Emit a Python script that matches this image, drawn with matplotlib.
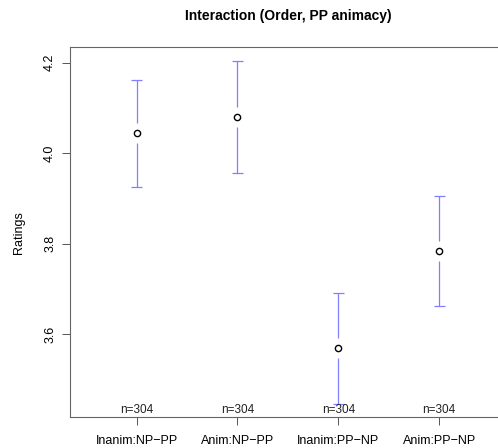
import numpy as np
import matplotlib
matplotlib.use("Agg")
import matplotlib.pyplot as plt

# group means and CI bounds
groups = ["Inanim:NP\u2212PP", "Anim:NP\u2212PP", "Inanim:PP\u2212NP", "Anim:PP\u2212NP"]
means = [4.044, 4.080, 3.570, 3.783]
upper = [4.161, 4.203, 3.692, 3.905]
lower = [3.926, 3.956, 3.445, 3.663]
counts = [304, 304, 304, 304]

plt.rcParams["font.family"] = ["Liberation Sans", "DejaVu Sans"]

fig = plt.figure(figsize=(4.98, 4.48), dpi=100)
ax = fig.add_axes([0.1406, 0.0692, 0.875, 0.8252])

x = np.arange(1, len(groups) + 1)
bar_col = "#8080ff"
gap = 0.022  # gap around the mean point, like plotmeans

for xi, m, lo, hi in zip(x, means, lower, upper):
    ax.vlines(xi, m + gap, hi, color=bar_col, lw=0.9)
    ax.vlines(xi, lo, m - gap, color=bar_col, lw=0.9)
    ax.hlines([lo, hi], xi - 0.055, xi + 0.055, color=bar_col, lw=0.9)

ax.plot(x, means, "o", mfc="white", mec="black", mew=1.0, ms=4.5, ls="none")

ax.set_xlim(0.34, 4.66)
ax.set_ylim(3.417, 4.234)

for xi, n in zip(x, counts):
    ax.text(xi, 3.419, f"n={n}", ha="center", va="bottom", fontsize=8.5, color="#222222")

ax.set_xticks(x)
ax.set_xticklabels(groups, fontsize=9)
ax.set_yticks([3.6, 3.8, 4.0, 4.2])
ax.set_yticklabels(["3.6", "3.8", "4.0", "4.2"], rotation=90, va="center", fontsize=9)
ax.tick_params(direction="out", length=6, width=0.7, color="#555555", pad=7)
ax.tick_params(axis="y", pad=4)

for sp in ax.spines.values():
    sp.set_color("#666666")
    sp.set_linewidth(0.8)

ax.set_ylabel("Ratings", fontsize=9, labelpad=14)
fig.text(288 / 498, 1 - 16 / 448, "Interaction (Order, PP animacy)",
         ha="center", va="center", fontsize=10, fontweight="bold")

fig.savefig("out.png", dpi=100)
